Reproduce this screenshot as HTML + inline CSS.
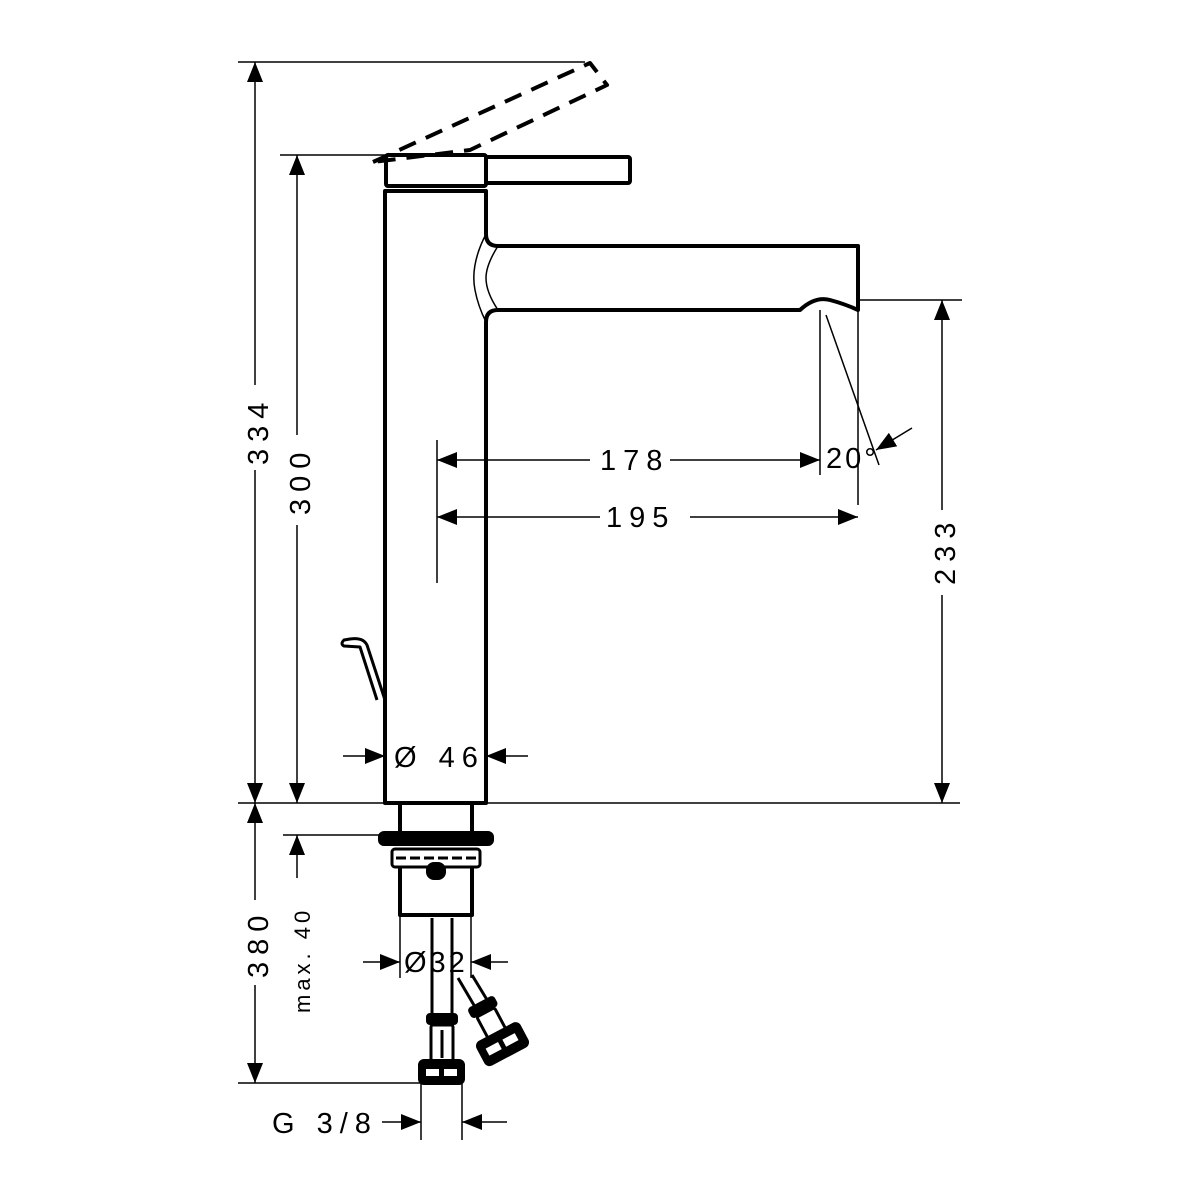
<!DOCTYPE html>
<html><head><meta charset="utf-8"><style>html,body{margin:0;padding:0;background:#fff}svg{display:block}text{font-family:"Liberation Sans",sans-serif;font-size:29px;fill:#000;letter-spacing:7px}</style></head>
<body>
<svg width="1200" height="1200" viewBox="0 0 1200 1200" xmlns="http://www.w3.org/2000/svg">
<defs>
<marker id="a" viewBox="0 0 20 16" refX="20" refY="8" markerWidth="20" markerHeight="16" markerUnits="userSpaceOnUse" orient="auto"><path d="M0,0L20,8L0,16z"/></marker>
</defs>
<rect width="1200" height="1200" fill="#fff"/>
<g stroke="#000" fill="none" stroke-width="1.5">
<line x1="238" y1="62" x2="585" y2="62"/>
<line x1="280" y1="155" x2="386" y2="155"/>
<line x1="238" y1="803" x2="960" y2="803"/>
<line x1="858" y1="300" x2="962" y2="300"/>
<line x1="283" y1="835" x2="380" y2="835"/>
<line x1="238" y1="1083" x2="420" y2="1083"/>
<line x1="437" y1="440" x2="437" y2="583"/>
<line x1="820" y1="310" x2="820" y2="475"/>
<line x1="858" y1="310" x2="858" y2="505"/>
<line x1="826" y1="315" x2="879" y2="465"/>
<line x1="400" y1="915" x2="400" y2="978"/>
<line x1="471" y1="915" x2="471" y2="978"/>
<line x1="421" y1="1083" x2="421" y2="1140"/>
<line x1="462" y1="1083" x2="462" y2="1140"/>
<line x1="255" y1="385" x2="255" y2="62" marker-end="url(#a)"/>
<line x1="255" y1="470" x2="255" y2="803" marker-end="url(#a)"/>
<line x1="297" y1="435" x2="297" y2="155" marker-end="url(#a)"/>
<line x1="297" y1="525" x2="297" y2="803" marker-end="url(#a)"/>
<line x1="942" y1="510" x2="942" y2="300" marker-end="url(#a)"/>
<line x1="942" y1="595" x2="942" y2="803" marker-end="url(#a)"/>
<line x1="255" y1="900" x2="255" y2="803" marker-end="url(#a)"/>
<line x1="255" y1="985" x2="255" y2="1083" marker-end="url(#a)"/>
<line x1="297" y1="878" x2="297" y2="835" marker-end="url(#a)"/>
<line x1="590" y1="460" x2="437" y2="460" marker-end="url(#a)"/>
<line x1="670" y1="460" x2="820" y2="460" marker-end="url(#a)"/>
<line x1="600" y1="517" x2="437" y2="517" marker-end="url(#a)"/>
<line x1="690" y1="517" x2="858" y2="517" marker-end="url(#a)"/>
<line x1="912" y1="428" x2="876" y2="450" marker-end="url(#a)"/>
<line x1="343" y1="756" x2="385" y2="756" marker-end="url(#a)"/>
<line x1="528" y1="756" x2="486" y2="756" marker-end="url(#a)"/>
<line x1="363" y1="962" x2="400" y2="962" marker-end="url(#a)"/>
<line x1="508" y1="962" x2="471" y2="962" marker-end="url(#a)"/>
<line x1="382" y1="1122" x2="421" y2="1122" marker-end="url(#a)"/>
<line x1="507" y1="1122" x2="462" y2="1122" marker-end="url(#a)"/>
</g>
<g stroke="#000" fill="none" stroke-width="4" stroke-linejoin="round">
<polygon points="373,162 590,63 607,85 470,150" stroke-dasharray="18,11"/>
<rect x="386" y="155" width="100" height="31" rx="2"/>
<rect x="486" y="157" width="144" height="26" rx="2"/>
<path d="M385,191 L385,803 L486,803 L486,322 Q486,310 498,310 L800,310 Q815,296 830,300 Q845,304 858,310 L858,246 L498,246 Q486,246 486,234 L486,191 Z"/>
<path d="M486,234 Q470,265 475,290 Q478,306 486,322" stroke-width="1.5"/>
<path d="M498,246 Q486,265 486,278 Q486,292 498,310" stroke-width="1.5"/>
<path d="M385,700 L367,645 Q363,637 350,639 L344,640 Q340,644 344,646 L360,647 L377,700" stroke-width="3"/>
<path d="M400,803 L400,833 M472,803 L472,833"/>
<rect x="380" y="833" width="112" height="11" rx="4" fill="#000"/>
<rect x="392" y="849" width="88" height="18" rx="3" stroke-width="3"/>
<line x1="396" y1="858" x2="476" y2="858" stroke-dasharray="10,4" stroke-width="3"/>
<rect x="428" y="864" width="16" height="14" rx="6" fill="#000"/>
<path d="M400,867 L400,915 L472,915 L472,867"/>
<path d="M432,918 L432,1015 M452,918 L452,1015" stroke-width="3"/>
<path d="M458,978 L478,1012 M472,975 L492,1008" stroke-width="3"/>
<rect x="428" y="1015" width="28" height="8" rx="2" fill="#000"/>
<rect x="431" y="1025" width="22" height="36" rx="2" stroke-width="3"/>
<line x1="442" y1="1030" x2="442" y2="1058" stroke-width="3"/>
<rect x="420" y="1061" width="43" height="22" rx="4" fill="#000"/>
<rect x="426" y="1069" width="13" height="7" fill="#fff" stroke="none"/><rect x="444" y="1069" width="13" height="7" fill="#fff" stroke="none"/>
<g transform="rotate(-28 495 1030)">
<rect x="482" y="1000" width="26" height="8" rx="2" fill="#000"/>
<rect x="485" y="1010" width="20" height="24" rx="2" stroke-width="3"/>
<rect x="472" y="1034" width="46" height="24" rx="4" fill="#000"/>
<rect x="478" y="1042" width="14" height="8" fill="#fff" stroke="none"/><rect x="497" y="1042" width="14" height="8" fill="#fff" stroke="none"/>
</g>
</g>
<text transform="translate(268,465) rotate(-90)">334</text>
<text transform="translate(310,515) rotate(-90)">300</text>
<text transform="translate(955,585) rotate(-90)">233</text>
<text transform="translate(268,978) rotate(-90)">380</text>
<text transform="translate(310,1013) rotate(-90)" style="font-size:22px;letter-spacing:4px">max. 40</text>
<text x="600" y="470">178</text>
<text x="606" y="527">195</text>
<text x="826" y="468" style="letter-spacing:3px">20°</text>
<text x="394" y="767">Ø  46</text>
<text x="404" y="972" style="letter-spacing:3px">Ø32</text>
<text x="272" y="1133">G 3/8</text>
</svg>
</body></html>
